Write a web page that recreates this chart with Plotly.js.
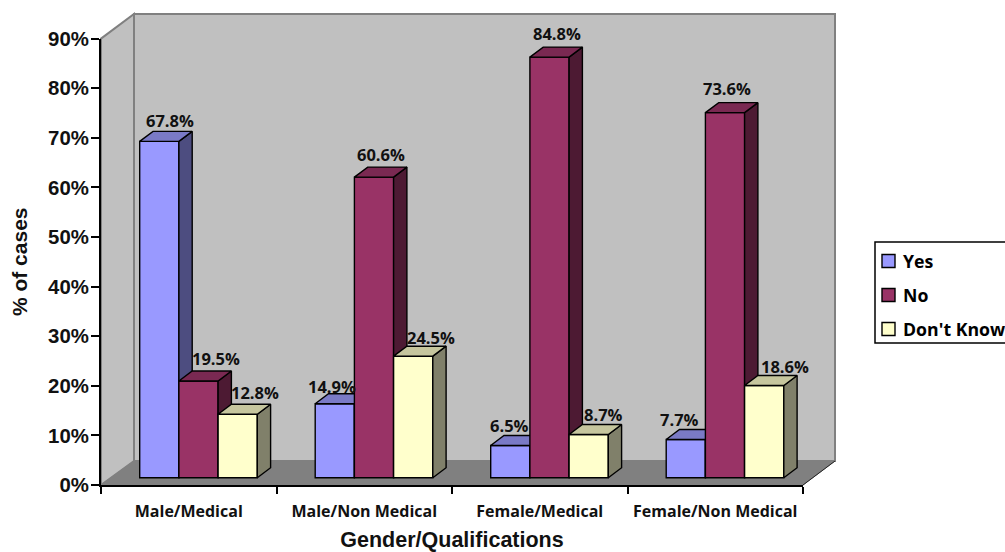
<!DOCTYPE html>
<html>
<head>
<meta charset="utf-8">
<script src="https://cdn.plot.ly/plotly-3.0.1.min.js"></script>
<style>html,body{margin:0;padding:0;background:#fff;overflow:hidden}#chart{width:1005px;height:552px}</style>
</head>
<body>
<div id="chart"></div>
<script>
// Survey responses by gender and qualification, as percentages of cases.
const categories = ['Male/Medical', 'Male/Non Medical', 'Female/Medical', 'Female/Non Medical'];
const yesValues = [67.8, 14.9, 6.5, 7.7];
const noValues = [19.5, 60.6, 84.8, 73.6];
const dontKnowValues = [12.8, 24.5, 8.7, 18.6];
const yTicks = [0, 10, 20, 30, 40, 50, 60, 70, 80, 90];

// Small nudges that keep each value label clear of its neighbours (pixels).
const yesLabelNudgeX = [4, -9, -7, -13];
const noLabelNudgeX = [11, 0, 1, -5];
const dontKnowLabelNudgeX = [11, 11, 8, 14];
const yesLabelNudgeY = [11, 7, 10, 10];
const noLabelNudgeY = [12, 13, 14, 14];
const dontKnowLabelNudgeY = [12, 9, 10, 9];

// Page geometry in pixels.
const W = 1005, H = 552;
const px = x => x / W, py = y => 1 - y / H;
const X0 = 101, X1 = 803, Y0 = 485, Y90 = 38.6;
const catPx = (X1 - X0) / categories.length;
const valPx = (Y0 - Y90) / 90;

// Depth of the box and of the bars, converted to axis units.
const barWidth = 39.2 / catPx;
const depthX = 13.3 / catPx;
const depthY = 10 / valPx;
const shiftX = 9.75 / catPx;   // bars sit slightly into the floor
const shiftY = 7.3 / valPx;

const series = [
  {name: 'Yes', values: yesValues, front: '#9999FF', top: '#7A7AC6', side: '#4D4D80', nx: yesLabelNudgeX, ny: yesLabelNudgeY},
  {name: 'No', values: noValues, front: '#993366', top: '#7A2952', side: '#4D1A33', nx: noLabelNudgeX, ny: noLabelNudgeY},
  {name: "Don't Know", values: dontKnowValues, front: '#FFFFCC', top: '#C6C69E', side: '#80806A', nx: dontKnowLabelNudgeX, ny: dontKnowLabelNudgeY}
];

const labelFamily = 'Open Sans, sans-serif';
const titleFamily = 'Liberation Sans, Arial, sans-serif';
const labelFont = {family: labelFamily, size: 16.5, color: '#111', weight: 700};
const traces = [{
  type: 'scatter', x: categories, y: [0, 0, 0, 0], mode: 'none',
  showlegend: false, hoverinfo: 'skip', xaxis: 'x', yaxis: 'y'
}];
const annotations = [];
const layerAxes = {};

series.forEach((s, k) => {
  const ax = 'x' + (k + 2), ay = 'y' + (k + 2);
  const offset = (k - 1.5) * barWidth;
  const sideX = [], sideY = [], topX = [], topY = [];
  s.values.forEach((v, i) => {
    const l = i + offset, r = l + barWidth;
    sideX.push(r, r + depthX, r + depthX, r, r, null);
    sideY.push(0, depthY, v + depthY, v, 0, null);
    topX.push(l, l + depthX, r + depthX, r, l, null);
    topY.push(v, v + depthY, v + depthY, v, v, null);
    annotations.push({
      xref: ax, yref: ay, x: i + offset + barWidth / 2, y: v + depthY,
      text: v.toFixed(1) + '%', showarrow: false, font: labelFont,
      xanchor: 'center', yanchor: 'middle',
      xshift: 6.65 + s.nx[i], yshift: s.ny[i]
    });
  });
  traces.push({
    type: 'bar', name: s.name, x: [0, 1, 2, 3], y: s.values, width: barWidth, offset: offset,
    marker: {color: s.front, line: {color: '#000', width: 1.4}},
    xaxis: ax, yaxis: ay, showlegend: false
  });
  const face = (xs, ys, color) => ({
    type: 'scatter', x: xs, y: ys, mode: 'lines', fill: 'toself', fillcolor: color,
    line: {color: '#000', width: 1.4}, showlegend: false, hoverinfo: 'skip',
    xaxis: ax, yaxis: ay
  });
  traces.push(face(sideX, sideY, s.side), face(topX, topY, s.top));
  layerAxes['xaxis' + (k + 2)] = {
    overlaying: 'x', anchor: ay, visible: false, fixedrange: true,
    range: [-0.5 - shiftX, categories.length - 0.5 - shiftX]
  };
  layerAxes['yaxis' + (k + 2)] = {
    overlaying: 'y', anchor: ax, visible: false, fixedrange: true,
    range: [-shiftY, 90 - shiftY]
  };
});

// Back wall, side wall and floor of the box.
const BX0 = 134, BX1 = 835, BTOP = 14, BBOT = 461;
const poly = pts => 'M' + pts.map(p => px(p[0]) + ',' + py(p[1])).join('L') + 'Z';
const frame = (pts, fill, line, width) => ({
  type: 'path', xref: 'paper', yref: 'paper', layer: 'below', path: poly(pts),
  fillcolor: fill, line: {color: line, width: width}
});
const shapes = [
  frame([[BX0, BTOP], [BX1, BTOP], [BX1, BBOT], [BX0, BBOT]], '#C0C0C0', '#808080', 2),
  frame([[X0, Y90], [BX0, BTOP], [BX0, BBOT], [X0, Y0]], '#C0C0C0', '#808080', 2),
  frame([[X0, Y0], [BX0, BBOT], [BX1, BBOT], [X1, Y0]], '#808080', '#808080', 1),
  {type: 'line', xref: 'paper', yref: 'paper', layer: 'below', x0: px(X1), y0: py(Y0), x1: px(BX1), y1: py(BBOT), line: {color: '#222', width: 1}}
];

// Legend panel on the right: framed box, one swatch and name per series.
const LEGEND_LEFT = 875, LEGEND_TOP = 242, LEGEND_BOTTOM = 343, LEGEND_RIGHT = 1012;
shapes.push({
  type: 'rect', xref: 'paper', yref: 'paper', x0: px(LEGEND_LEFT), x1: px(LEGEND_RIGHT),
  y0: py(LEGEND_TOP), y1: py(LEGEND_BOTTOM), fillcolor: '#fff', line: {color: '#000', width: 1.5}
});
series.forEach((s, k) => {
  const cy = 261 + k * 34;
  shapes.push({
    type: 'rect', xref: 'paper', yref: 'paper', x0: px(882), x1: px(895),
    y0: py(cy - 6.5), y1: py(cy + 6.5), fillcolor: s.front, line: {color: '#000', width: 1.4}
  });
  annotations.push({
    xref: 'paper', yref: 'paper', x: px(901), y: py(cy), text: s.name, showarrow: false,
    xanchor: 'left', yanchor: 'middle',
    font: {family: labelFamily, size: 17.7, color: '#000', weight: 700}
  });
});

const layout = Object.assign({
  width: W, height: H,
  margin: {l: 0, r: 0, t: 0, b: 0},
  paper_bgcolor: '#fff', plot_bgcolor: 'rgba(0,0,0,0)',
  shapes: shapes, annotations: annotations, hovermode: false,
  barmode: 'overlay', showlegend: false,
  xaxis: {
    type: 'category', categoryorder: 'array', categoryarray: categories,
    domain: [px(X0), px(X1)], range: [-0.5, 3.5], anchor: 'y', fixedrange: true,
    showgrid: false, zeroline: false, showline: true, linecolor: '#000', linewidth: 2,
    ticks: 'outside', ticklen: 7, tickwidth: 1.5, tickcolor: '#000', tickson: 'boundaries',
    ticklabelstandoff: 11,
    tickfont: {family: labelFamily, size: 16, color: '#111', weight: 700},
    title: {text: 'Gender/Qualifications', standoff: 17,
      font: {family: titleFamily, size: 21.5, color: '#111', weight: 700}}
  },
  yaxis: {
    domain: [py(Y0), py(Y90)], range: [0, 90], anchor: 'x', fixedrange: true,
    tickvals: yTicks, ticktext: yTicks.map(t => t + '%'),
    showgrid: false, zeroline: false, showline: true, linecolor: '#000', linewidth: 2,
    ticks: 'outside', ticklen: 8, tickwidth: 1.5, tickcolor: '#000',
    ticklabelstandoff: -2,
    tickfont: {family: titleFamily, size: 20.4, color: '#111', weight: 700},
    title: {text: '% of cases', standoff: 15,
      font: {family: titleFamily, size: 21, color: '#111', weight: 700}}
  }
}, layerAxes);

Plotly.newPlot('chart', traces, layout, {displayModeBar: false, responsive: false});
</script>
</body>
</html>
